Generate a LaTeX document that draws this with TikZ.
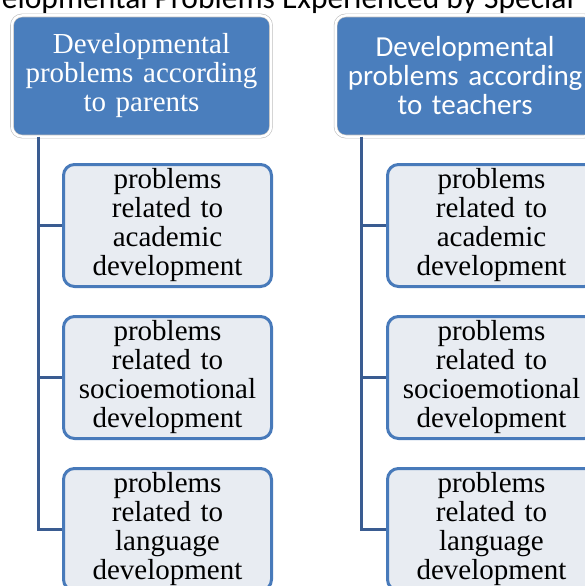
\documentclass[tikz,border=0pt]{standalone}
\usepackage{fontspec}
\setmainfont{Liberation Serif}
\newfontfamily\calibrifont{Carlito}
\usetikzlibrary{positioning}
\definecolor{hdrblue}{RGB}{74,126,189}
\definecolor{boxfill}{RGB}{232,236,242}
\definecolor{boxline}{RGB}{72,122,186}
\definecolor{trunk}{RGB}{58,92,145}
\tikzset{
    header/.style={rectangle, rounded corners=10pt, minimum width=259pt, minimum height=121pt, align=center, text width=250pt, inner sep=0pt, draw=black!25, double=white, double distance=2.5pt, line width=0.6pt, fill=hdrblue, text=white, font=\fontsize{29}{29}\selectfont},
    problem/.style={rectangle, rounded corners=11pt, minimum width=208pt, minimum height=122pt, align=center, text width=205pt, inner sep=0pt, draw=boxline, line width=3pt, fill=boxfill, font=\fontsize{29}{29}\selectfont},
    link/.style={draw=trunk, line width=3pt}
}

\begin{document}
\begin{tikzpicture}[node distance=27pt and 113pt]
    \useasboundingbox (0,0) rectangle (585pt,-586pt);
    \clip (0,0) rectangle (585pt,-586pt);

    % Caption (cut off at the top)
    \node (title) [anchor=base east, inner sep=0pt, font=\calibrifont\fontsize{31.5}{36}\selectfont] at (574pt,-9pt) {Developmental Problems Experienced by Special};

    % Left side: according to parents
    \node (hdrA) [header] at (141.5pt,-76pt) {Developmental\\ problems according\\ to parents};
    \node (acadA) [problem] at (167.5pt,-225.5pt) {problems\\ related to\\ academic\\ development};
    \node (sociA) [problem, below=of acadA] {problems\\ related to\\ socioemotional\\ development};
    \node (langA) [problem, below=of sociA] {problems\\ related to\\ language\\ development};

    \draw [link] ([xshift=26.5pt]hdrA.south west) |- (langA.west);
    \draw [link] ([xshift=26.5pt]hdrA.south west) |- (acadA.west);
    \draw [link] ([xshift=26.5pt]hdrA.south west) |- (sociA.west);

    % Right side: according to teachers
    \node (hdrB) [header, right=64pt of hdrA, font=\calibrifont\fontsize{29}{29}\selectfont] {Developmental\\ problems according\\ to teachers};
    \node (acadB) [problem, right=of acadA] {problems\\ related to\\ academic\\ development};
    \node (sociB) [problem, below=of acadB] {problems\\ related to\\ socioemotional\\ development};
    \node (langB) [problem, below=of sociB] {problems\\ related to\\ language\\ development};

    \draw [link] ([xshift=26.5pt]hdrB.south west) |- (langB.west);
    \draw [link] ([xshift=26.5pt]hdrB.south west) |- (acadB.west);
    \draw [link] ([xshift=26.5pt]hdrB.south west) |- (sociB.west);
\end{tikzpicture}
\end{document}
